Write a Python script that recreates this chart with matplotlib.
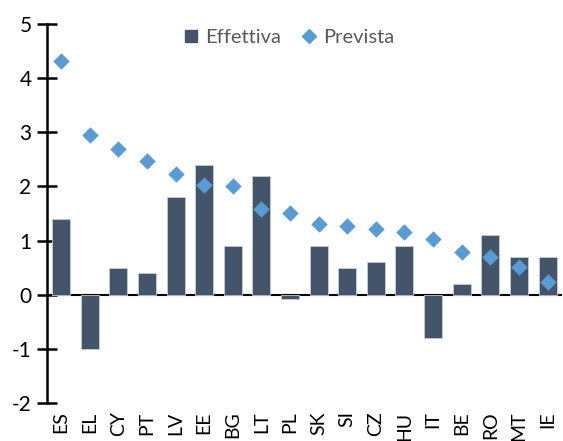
"""Effettiva vs Prevista bar + diamond chart."""

import matplotlib

matplotlib.use("Agg")

import matplotlib.pyplot as plt
import numpy as np
from matplotlib.lines import Line2D


COUNTRIES = ["ES", "EL", "CY", "PT", "LV", "EE", "BG", "LT", "PL",
             "SK", "SI", "CZ", "HU", "IT", "BE", "RO", "MT", "IE"]
EFFETTIVA = [1.4, -1.0, 0.5, 0.4, 1.8, 2.4, 0.9, 2.2, -0.08,
             0.9, 0.5, 0.6, 0.9, -0.8, 0.2, 1.1, 0.7, 0.7]
PREVISTA = [4.32, 2.95, 2.69, 2.46, 2.23, 2.03, 2.0, 1.58, 1.51,
            1.3, 1.26, 1.21, 1.15, 1.02, 0.78, 0.7, 0.52, 0.24]
Y_TICKS = [-2, -1, 0, 1, 2, 3, 4, 5]

BAR_COLOR = "#44546A"
DOT_COLOR = "#5B9BD5"


def main() -> None:
    plt.rcParams["font.family"] = ["Lato", "DejaVu Sans"]
    plt.rcParams["axes.unicode_minus"] = False

    fig = plt.figure(figsize=(5.63, 4.41), dpi=100)
    ax = fig.add_axes([0.083, 0.086, 0.915, 0.86])

    x = np.arange(len(COUNTRIES))
    ax.bar(x, EFFETTIVA, width=0.63, color=BAR_COLOR, edgecolor="#C8CCD2",
           linewidth=0.6, zorder=2)
    ax.scatter(x, PREVISTA, marker="D", s=70, color=DOT_COLOR,
               zorder=3, linewidths=0)

    ax.axhline(0, color="black", linewidth=1.5, zorder=1)
    ax.set_xlim(-0.5, len(COUNTRIES) - 0.5)
    ax.set_ylim(-2, 5)
    ax.set_yticks(Y_TICKS)
    ax.set_xticks(x, COUNTRIES, rotation=90)

    for side in ["top", "right", "bottom"]:
        ax.spines[side].set_visible(False)
    ax.spines["left"].set_linewidth(1.8)
    ax.tick_params(axis="y", direction="inout", length=14, width=1.8,
                   labelsize=15, pad=4)
    ax.tick_params(axis="x", length=0, labelsize=14, pad=6)

    handles = [
        Line2D([], [], marker="s", linestyle="none", markersize=9,
               color=BAR_COLOR, label="Effettiva"),
        Line2D([], [], marker="D", linestyle="none", markersize=7,
               color=DOT_COLOR, label="Prevista"),
    ]
    ax.legend(handles=handles, loc="upper center",
              bbox_to_anchor=(0.47, 1.035), ncol=2, frameon=False,
              fontsize=14.5, handlelength=0.8, handletextpad=0.3,
              columnspacing=1.0, labelcolor="#595959")

    fig.savefig("out.png", dpi=100)
    plt.close(fig)


if __name__ == "__main__":
    main()
